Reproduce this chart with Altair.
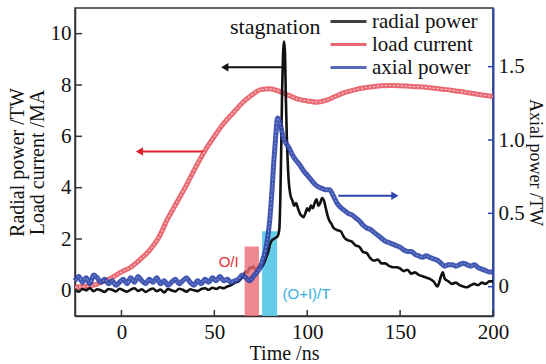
import altair as alt
import pandas as pd

# ---------------- data ----------------
rad_t = [-25, -23, -21, -19, -17, -15, -13, -11, -9, -7,
         -5, -3, -1, 1, 3, 5, 7, 9, 11, 13,
         15, 17, 19, 21, 23, 25, 27, 29, 31, 33,
         35, 37, 39, 41, 43, 45, 47, 49, 51, 53,
         55, 57, 59, 61, 63,
         65, 66, 67, 68, 69, 70, 71, 72, 73, 74,
         75, 76, 77, 78, 79, 80, 81, 82, 83, 84,
         85, 85.5, 86, 86.5, 87, 87.5, 88, 88.5, 89, 89.5,
         90, 91, 92, 93, 94, 95, 96, 97, 98, 99,
         100, 101, 102, 103, 104, 105, 106, 107, 108, 109,
         110, 111, 112, 113, 114,
         116, 118, 120, 122, 124, 126, 128, 130, 132, 134,
         136, 138, 140, 142, 144, 146, 148, 150, 152, 154,
         156, 158, 160, 162, 164, 166, 168, 170,
         171, 172, 173, 174, 176, 178, 180, 182, 184, 186,
         188, 190, 192, 194, 196, 198, 200]
rad_v = [0.02, -0.05, 0.05, 0.0, 0.08, -0.03, 0.04, 0.0, -0.06, 0.05,
         0.02, -0.04, 0.06, 0.0, -0.05, 0.03, 0.08, -0.02, 0.04, -0.06,
         0.02, 0.07, -0.03, 0.03, -0.08, 0.05, 0.0, -0.04, 0.06, 0.02,
         -0.05, 0.04, 0.0, -0.03, 0.05, 0.08, 0.02, 0.1, 0.05, 0.12,
         0.08, 0.15, 0.2, 0.3, 0.35,
         0.5, 0.6, 0.75, 0.7, 0.9, 0.85, 0.95, 0.8, 0.85, 0.95,
         0.9, 0.95, 1.1, 1.3, 1.5, 1.8, 1.95, 2.0, 2.05, 2.1,
         2.4, 3.5, 5.5, 7.8, 9.2, 9.7, 9.3, 7.5, 6.0, 5.0,
         4.3, 3.7, 3.5, 3.3, 3.4, 3.2, 3.0, 2.9, 2.85, 3.0,
         3.2, 3.1, 3.3, 3.2, 3.4, 3.55, 3.3, 3.4, 3.6, 3.5,
         3.2, 2.9, 2.7, 2.6, 2.45,
         2.35, 2.3, 2.05, 1.95, 1.9, 1.75, 1.7, 1.5, 1.45, 1.25,
         1.15, 1.2, 1.05, 1.05, 0.95, 0.9, 0.9, 0.85, 0.75, 0.8,
         0.65, 0.7, 0.6, 0.55, 0.5, 0.45, 0.35, 0.15,
         0.3, 0.55, 0.7, 0.45, 0.35, 0.25, 0.3, 0.2, 0.15, 0.12,
         0.2, 0.25, 0.2, 0.3, 0.25, 0.35, 0.35]

cur_t = [-25, -20, -15, -10, -5, 0, 5, 10, 15, 20,
         25, 30, 35, 40, 45, 50, 55, 60, 65, 70,
         75, 80, 85, 90, 95, 100, 105, 110, 115, 120,
         125, 130, 135, 140, 145, 150, 155, 160, 165, 170,
         175, 180, 185, 190, 195, 200]
cur_v = [0.12, 0.15, 0.2, 0.35, 0.5, 0.72, 0.9, 1.2, 1.55, 2.05,
         2.8, 3.45, 4.1, 4.8, 5.45, 6.0, 6.5, 6.9, 7.3, 7.6,
         7.82, 7.85, 7.75, 7.6, 7.45, 7.38, 7.33, 7.4, 7.55, 7.7,
         7.8, 7.88, 7.93, 7.97, 7.98, 7.97, 7.95, 7.93, 7.9, 7.86,
         7.82, 7.77, 7.72, 7.66, 7.6, 7.55]

ax_t = [-25, -23, -21, -19, -17, -15, -13, -11, -9, -7,
        -5, -3, -1, 1, 3, 5, 7, 9, 11, 13,
        15, 17, 19, 21, 23, 25, 27, 29, 31, 33,
        35, 37, 39, 41, 43, 45, 47, 49, 51, 53,
        55, 57, 59, 61, 63, 65, 67, 69, 71, 73,
        75, 76, 77, 78, 79, 80, 81, 82, 83, 84,
        85, 86, 87, 88, 89, 90, 92, 94, 96, 98,
        100, 102, 104, 106, 108, 110, 112, 114, 116, 118,
        120, 122, 124, 126, 128, 130, 132, 134, 136, 138,
        140, 142, 144, 146, 148, 150, 152, 154, 156, 158,
        160, 162, 164, 166, 168, 170, 172, 174, 176, 178,
        180, 182, 184, 186, 188, 190, 192, 194, 196, 198,
        200]
ax_v = [0.04, 0.07, 0.03, 0.06, 0.02, 0.08, 0.06, 0.03, 0.05, 0.02,
        0.04, 0.01, 0.03, 0.05, 0.02, 0.06, 0.03, 0.07, 0.04, 0.02,
        0.05, 0.03, 0.06, 0.02, 0.04, 0.01, 0.03, 0.05, 0.02, 0.04,
        0.06, 0.03, 0.01, 0.04, 0.02, 0.05, 0.03, 0.06, 0.04, 0.07,
        0.04, 0.05, 0.03, 0.04, 0.05, 0.08, 0.06, 0.04, 0.07, 0.1,
        0.14, 0.18, 0.22, 0.28, 0.36, 0.48, 0.65, 0.85, 1.02, 1.15,
        1.13, 1.08, 1.02, 0.99, 0.97, 0.95, 0.9, 0.86, 0.83, 0.79,
        0.76, 0.73, 0.7, 0.68, 0.67, 0.66, 0.66, 0.62, 0.57, 0.54,
        0.52, 0.5, 0.49, 0.47, 0.45, 0.42, 0.4, 0.39, 0.37, 0.35,
        0.33, 0.31, 0.3, 0.29, 0.28, 0.27, 0.25, 0.24, 0.24, 0.22,
        0.21, 0.2, 0.21, 0.2, 0.19, 0.18, 0.16, 0.14, 0.15, 0.15,
        0.14, 0.15, 0.16, 0.15, 0.14, 0.15, 0.13, 0.12, 0.11, 0.1,
        0.1]

series_names = ["radial power", "load current", "axial power"]
series_colors = ["#111111", "#e2434d", "#2c45aa"]

x_ticks = [0, 50, 100, 150, 200]
left_ticks = [0, 2, 4, 6, 8, 10]
right_ticks = [0, 0.5, 1.0, 1.5]

# shaded windows
box_t0 = [66.3, 75.7]
box_t1 = [74.0, 83.8]
box_top = [1.71, 2.3]
box_colors = ["#ec6a74", "#5cc8e8"]

# annotation texts (left-axis units)
note_text = ["stagnation"]
note_t = [82.8]
note_v = [10.25]
lab_text = ["O/I", "(O+I)/T"]
lab_t = [57.7, 99.6]
lab_v = [1.1, -0.15]
lab_colors = ["#e0303a", "#35b0e0"]

# arrows: start, head, level
arr_left_t0 = [86.8, 43.9]
arr_left_t1 = [55.6, 9.7]
arr_left_v = [8.69, 5.41]
arr_left_colors = ["#111111", "#e0202a"]
arr_right_t0 = [116.7]
arr_right_t1 = [147.2]
arr_right_v = [0.62]

SERIF = "'Liberation Serif', 'Times New Roman', 'DejaVu Serif', serif"
SANS = "'Liberation Sans', Arial, sans-serif"
W, H = 418, 308

# ---------------- frames ----------------
rad_df = pd.DataFrame({"t": rad_t, "v": rad_v, "s": series_names[0]})
cur_df = pd.DataFrame({"t": cur_t, "v": cur_v, "s": series_names[1]})
ax_df = pd.DataFrame({"t": ax_t, "v": ax_v, "s": series_names[2]})
box_df = pd.DataFrame({"t": box_t0, "t2": box_t1, "v": [-1, -1], "v2": box_top, "c": box_colors})
note_df = pd.DataFrame({"t": note_t, "v": note_v, "txt": note_text})
lab_df = pd.DataFrame({"t": lab_t, "v": lab_v, "txt": lab_text, "c": lab_colors})
arrL_df = pd.DataFrame({"t": arr_left_t0, "t2": arr_left_t1, "v": arr_left_v, "c": arr_left_colors})
arrR_df = pd.DataFrame({"t": arr_right_t0, "t2": arr_right_t1, "v": arr_right_v})
xt_df = pd.DataFrame({"t": x_ticks})
lt_df = pd.DataFrame({"v": left_ticks})
rt_df = pd.DataFrame({"v": right_ticks})

# ---------------- encodings ----------------
x_axis = alt.Axis(values=x_ticks, title="Time /ns", ticks=False, grid=False,
                  domainColor="#333333", domainWidth=1.5,
                  labelFont=SERIF, labelFontSize=21, labelColor="#111111", labelPadding=5,
                  titleFont=SERIF, titleFontSize=20, titleFontWeight="normal",
                  titleColor="#111111", titlePadding=1, labelFlush=False)
x_scale = alt.Scale(domain=[-25, 200], nice=False, zero=False)
xE = alt.X("t:Q", scale=x_scale, axis=x_axis)

left_axis = alt.Axis(values=left_ticks, title=["Radial power /TW", "Load current /MA"],
                     ticks=False, grid=False, format="d",
                     domainColor="#333333", domainWidth=1.5,
                     labelFont=SERIF, labelFontSize=21, labelColor="#111111", labelPadding=4,
                     titleFont=SERIF, titleFontSize=20, titleFontWeight="normal",
                     titleColor="#111111", titlePadding=3, titleLineHeight=20)
yL = alt.Y("v:Q", scale=alt.Scale(domain=[-1, 11], nice=False, zero=False), axis=left_axis)

right_axis = alt.Axis(values=right_ticks, title="Axial power /TW", orient="right",
                      ticks=False, grid=False,
                      labelExpr="datum.value == 0 ? '0' : format(datum.value, '.1f')",
                      domainColor="#2c45aa", domainWidth=2,
                      labelFont=SERIF, labelFontSize=21, labelColor="#111111", labelPadding=5,
                      titleFont=SERIF, titleFontSize=18, titleFontWeight="normal",
                      titleColor="#111111", titlePadding=1)
yR = alt.Y("v:Q", scale=alt.Scale(domain=[-0.2, 1.9], nice=False, zero=False), axis=right_axis)

legend = alt.Legend(orient="none", legendX=263, legendY=3, title=None,
                    symbolType="M-3,0L3,0", symbolSize=144, symbolStrokeWidth=3,
                    labelFont=SERIF, labelFontSize=21, labelColor="#111111",
                    labelOffset=13, padding=0, rowPadding=1, labelLimit=300)
colE = alt.Color("s:N", scale=alt.Scale(domain=series_names, range=series_colors), legend=legend)

# ---------------- left layers ----------------
cyan_box = alt.Chart(box_df).transform_filter("datum.c == '#5cc8e8'").mark_rect(
    color="#5cc8e8", opacity=0.95).encode(x=xE, x2="t2:Q", y=yL, y2="v2:Q")
red_box = alt.Chart(box_df).transform_filter("datum.c == '#ec6a74'").mark_rect(
    color="#ec6a74", opacity=0.8).encode(x=xE, x2="t2:Q", y=yL, y2="v2:Q")

cur_line = alt.Chart(cur_df).mark_line(strokeWidth=5, opacity=0.8, interpolate="monotone").encode(
    x=xE, y=yL, color=colE)
cur_inner = alt.Chart(cur_df).mark_line(strokeWidth=1.2, color="#f7c9cc", strokeDash=[2, 2],
                                        interpolate="monotone").encode(x=xE, y=yL)
rad_line = alt.Chart(rad_df).mark_line(strokeWidth=2.6, interpolate="monotone").encode(
    x=xE, y=yL, color=colE)

note = alt.Chart(note_df).mark_text(font=SERIF, fontSize=22, color="#111111",
                                    baseline="middle", align="center").encode(x=xE, y=yL, text="txt:N")
labs = alt.Chart(lab_df).mark_text(font=SANS, fontSize=15, baseline="middle", align="center").encode(
    x=xE, y=yL, text="txt:N", color=alt.Color("c:N", scale=None, legend=None))

arrL = alt.Chart(arrL_df).mark_rule(strokeWidth=2).encode(
    x=xE, x2="t2:Q", y=yL, color=alt.Color("c:N", scale=None, legend=None))
arrL_head = alt.Chart(arrL_df).mark_point(shape="triangle-left", filled=True, size=70, opacity=1).encode(
    x=alt.X("t2:Q", scale=x_scale, axis=x_axis),
    y=yL, color=alt.Color("c:N", scale=None, legend=None))

xtick = alt.Chart(xt_df).mark_rule(color="#333333", strokeWidth=1.5).encode(
    x=xE, y=alt.value(H), y2=alt.value(H - 6))
ltick = alt.Chart(lt_df).mark_rule(color="#333333", strokeWidth=1.5).encode(
    y=yL, x=alt.value(0), x2=alt.value(7))

left = alt.layer(cyan_box, cur_line, cur_inner, rad_line, red_box, note, labs,
                 arrL, arrL_head, xtick, ltick)

# ---------------- right layers ----------------
ax_line = alt.Chart(ax_df).mark_line(strokeWidth=5, opacity=0.9, interpolate="monotone").encode(
    x=xE, y=yR, color=colE)
ax_inner = alt.Chart(ax_df).mark_line(strokeWidth=1, color="#8796d6", strokeDash=[2, 2],
                                      interpolate="monotone").encode(x=xE, y=yR)
arrR = alt.Chart(arrR_df).mark_rule(strokeWidth=2, color="#2c45aa").encode(x=xE, x2="t2:Q", y=yR)
arrR_head = alt.Chart(arrR_df).mark_point(shape="triangle-right", filled=True, size=70,
                                          color="#2c45aa", opacity=1).encode(
    x=alt.X("t2:Q", scale=x_scale, axis=x_axis), y=yR)
rtick = alt.Chart(rt_df).mark_rule(color="#2c45aa", strokeWidth=1.5).encode(
    y=yR, x=alt.value(W), x2=alt.value(W - 5))

right = alt.layer(ax_line, ax_inner, arrR, arrR_head, rtick)

chart = alt.layer(left, right).resolve_scale(y="independent").properties(
    width=W, height=H,
    autosize=alt.AutoSizeParams(type="none"),
    padding={"left": 75, "top": 8, "right": 53, "bottom": 48},
    background="white",
).configure_view(stroke="#333333", strokeWidth=1.5)

chart.save("out.html", embed_options={"renderer": "svg", "actions": False})
